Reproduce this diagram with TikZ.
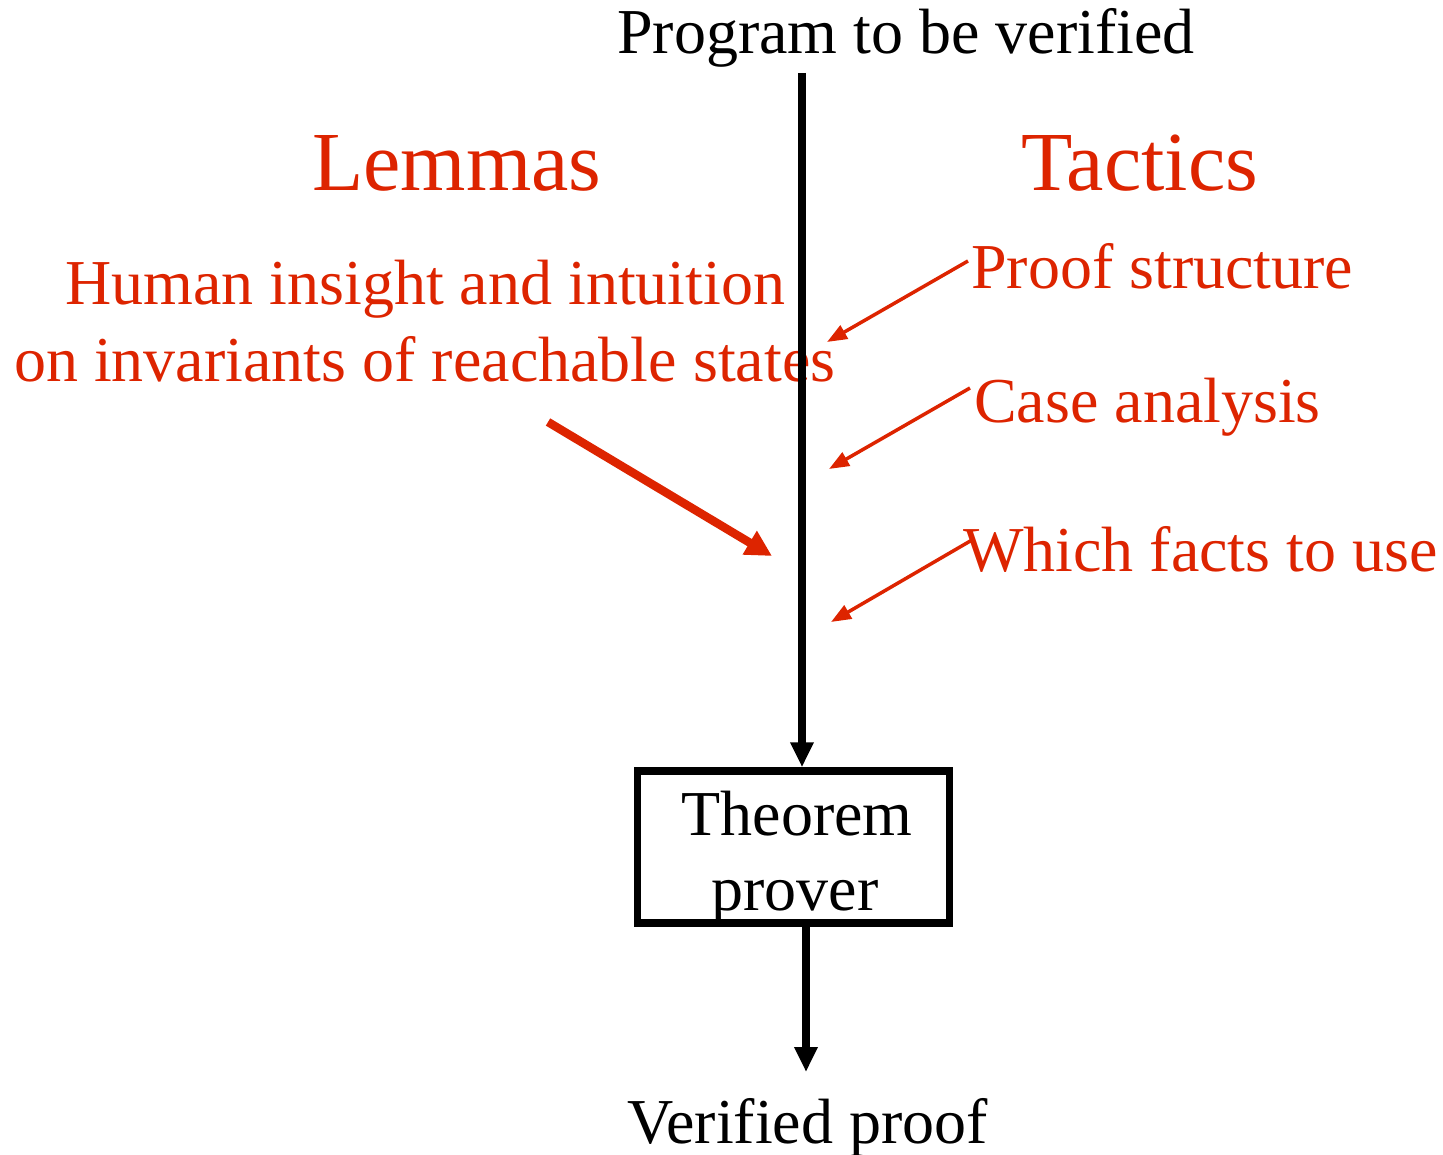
\documentclass[tikz,border=0pt]{standalone}
\usepackage{fontspec}
\setmainfont{Liberation Serif}
\usetikzlibrary{arrows.meta}
\definecolor{tacred}{RGB}{221,36,0}
\tikzset{
  txt/.style={inner sep=0pt, anchor=base west, font=\fontsize{64}{75}\selectfont},
  head/.style={inner sep=0pt, anchor=base west, font=\fontsize{84}{90}\selectfont, text=tacred},
  redtxt/.style={txt, text=tacred},
  flow/.style={line width=7.5pt, -{Triangle[length=25pt,width=22pt]}},
  hint/.style={draw=tacred, line width=3.5pt, -{Triangle[length=20pt,width=15pt]}},
  bighint/.style={draw=tacred, line width=8.5pt, -{Triangle[length=26pt,width=26pt]}},
  proverbox/.style={draw, line width=7.5pt, minimum width=312pt, minimum height=152pt, inner sep=0pt}
}
\begin{document}
\begin{tikzpicture}[x=1pt,y=-1pt]
  \useasboundingbox (0,0) rectangle (1443,1155);

  % labels
  \node[txt] (prog) at (617,54) {Program to be verified};
  \node[head] (lem) at (312,191) {Lemmas};
  \node[head] (tac) at (1021,191) {Tactics};
  \node[redtxt] (hum1) at (65,305) {Human insight and intuition};
  \node[redtxt] (hum2) at (14,382) {on invariants of reachable states};
  \node[redtxt] (pst) at (971,289) {Proof structure};
  \node[redtxt] (cas) at (974,422) {Case analysis};
  \node[redtxt] (wfu) at (963,571) {Which facts to use};
  \node[txt] (ver) at (627,1143) {Verified proof};

  % theorem prover box
  \node[proverbox] (box) at (793.5,847) {};
  \node[txt, anchor=base] (thm) at (797,835) {Theorem};
  \node[txt, anchor=base] (prv) at (795,910) {prover};

  % main flow
  \coordinate (src) at (802,73);
  \draw[flow] (src) -- (src |- box.north);
  \coordinate (out) at (806,1072);
  \draw[flow] (out |- box.south) -- (out);

  % hint arrows
  \coordinate (p1) at (968,261);  \coordinate (p2) at (827,342);
  \coordinate (c1) at (970,388);  \coordinate (c2) at (829,469);
  \coordinate (w1) at (972,540);  \coordinate (w2) at (831,622);
  \coordinate (l1) at (548,422);  \coordinate (l2) at (772,556);
  \draw[hint] (p1) -- (p2);
  \draw[hint] (c1) -- (c2);
  \draw[hint] (w1) -- (w2);
  \draw[bighint] (l1) -- (l2);
\end{tikzpicture}
\end{document}
